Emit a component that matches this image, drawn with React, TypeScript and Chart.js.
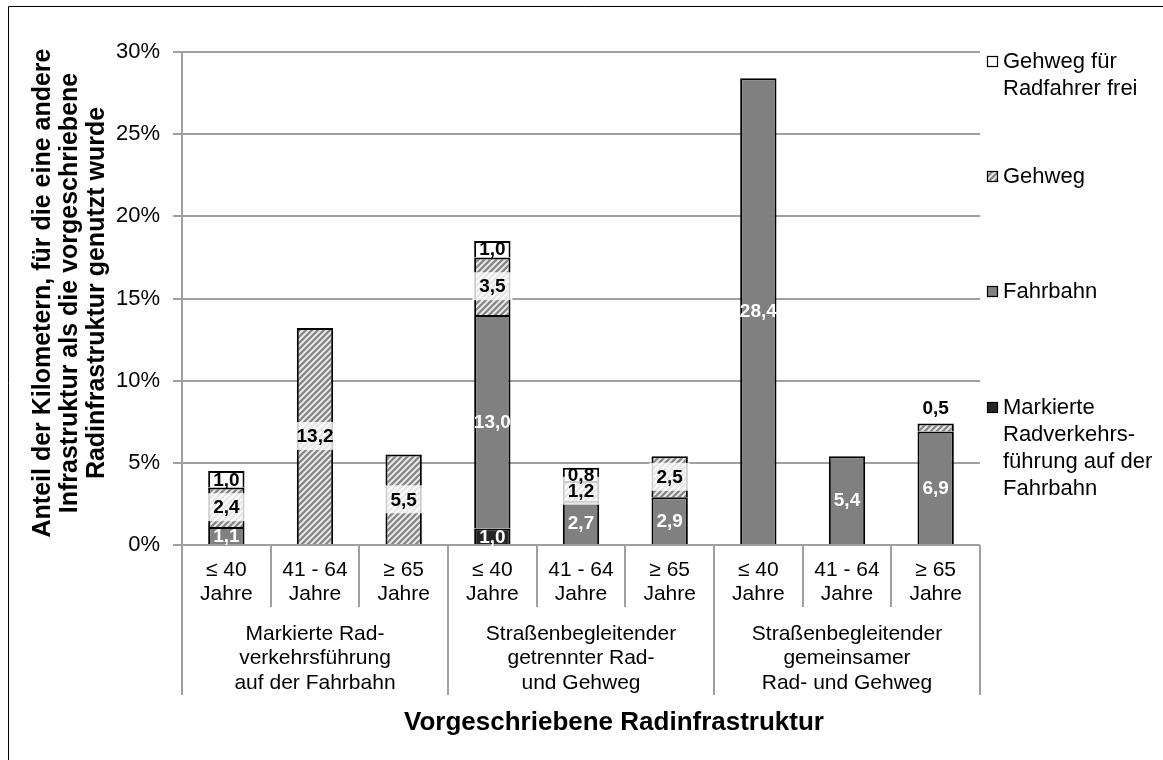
import React, { useEffect, useRef } from "react";
import { Chart, registerables } from "chart.js";
Chart.register(...registerables);

// ---------- DATA ----------
const ageLabels = ["≤ 40", "41 - 64", "≥ 65"];
const ageSuffix = "Jahre";
const groupLabels = [
  ["Markierte Rad-", "verkehrsführung", "auf der Fahrbahn"],
  ["Straßenbegleitender", "getrennter Rad-", "und Gehweg"],
  ["Straßenbegleitender", "gemeinsamer", "Rad- und Gehweg"],
];
const categories = groupLabels.flatMap((g) => ageLabels.map((a) => `${g.join(" ")} | ${a}`));

const markierte = [null, null, null, 1.0, null, null, null, null, null];
const fahrbahn = [1.1, null, null, 13.0, 2.7, 2.9, 28.4, 5.4, 6.9];
const gehweg = [2.4, 13.2, 5.5, 3.5, 1.2, 2.5, null, null, 0.5];
const gehwegFrei = [1.0, null, null, 1.0, 0.8, null, null, null, null];

const seriesNames = [
  ["Markierte", "Radverkehrs-", "führung auf der", "Fahrbahn"],
  ["Fahrbahn"],
  ["Gehweg"],
  ["Gehweg für", "Radfahrer frei"],
];
const yMax = 30;
const yStep = 5;
const yTitleLines = [
  "Anteil der Kilometern, für die eine andere",
  "Infrastruktur als die vorgeschriebene",
  "Radinfrastruktur genutzt wurde",
];
const xTitle = "Vorgeschriebene Radinfrastruktur";

// ---------- STYLE ----------
const FONT = '"Liberation Sans", Arial, sans-serif';
const GRID = "#a0a0a0";

function makeHatch(): CanvasPattern | string {
  const c = document.createElement("canvas");
  const s = 6;
  c.width = s;
  c.height = s;
  const g = c.getContext("2d");
  if (!g) return "#bbb";
  g.fillStyle = "#f0f0f0";
  g.fillRect(0, 0, s, s);
  g.strokeStyle = "#888888";
  g.lineWidth = 2.4;
  g.beginPath();
  for (let k = -1; k <= 1; k++) {
    g.moveTo(k * s - 1, s + 1);
    g.lineTo(k * s + s + 1, -1);
  }
  g.stroke();
  const p = g.createPattern(c, "repeat");
  return p || "#bbb";
}

const fmt = (v: number) => v.toFixed(1).replace(".", ",");

export default function App() {
  const ref = useRef<HTMLCanvasElement | null>(null);

  useEffect(() => {
    const canvas = ref.current;
    if (!canvas) return;
    const hatch = makeHatch();
    const fills = ["#262626", "#808080", hatch, "#ffffff"];
    const labelColors = ["#ffffff", "#ffffff", "#000000", "#000000"];
    const labelBg = [false, false, true, false];

    const borderPlugin = {
      id: "outerBorder",
      beforeDraw(chart: any) {
        const ctx = chart.ctx;
        ctx.save();
        ctx.fillStyle = "#ffffff";
        ctx.fillRect(0, 0, chart.width, chart.height);
        ctx.strokeStyle = "#000";
        ctx.lineWidth = 1;
        ctx.beginPath();
        ctx.moveTo(8.5, chart.height);
        ctx.lineTo(8.5, 6.5);
        ctx.lineTo(chart.width, 6.5);
        ctx.stroke();
        ctx.restore();
      },
    };

    const labelPlugin = {
      id: "segLabels",
      afterDatasetsDraw(chart: any) {
        const ctx = chart.ctx;
        ctx.save();
        ctx.font = `bold 19px ${FONT}`;
        ctx.textAlign = "center";
        ctx.textBaseline = "middle";
        chart.data.datasets.forEach((ds: any, i: number) => {
          const meta = chart.getDatasetMeta(i);
          meta.data.forEach((el: any, j: number) => {
            const v = ds.data[j];
            if (v == null) return;
            const { x, y, base } = el.getProps(["x", "y", "base"], true);
            const h = Math.abs(base - y);
            const txt = fmt(v);
            if (h < 12) {
              ctx.fillStyle = "#000";
              ctx.fillText(txt, x, Math.min(y, base) - 15);
              return;
            }
            const cy = (y + base) / 2;
            if (labelBg[i]) {
              const w = ctx.measureText(txt).width + 14;
              ctx.fillStyle = "rgba(255,255,255,0.8)";
              ctx.fillRect(x - w / 2, cy - 14, w, 28);
            }
            ctx.fillStyle = labelColors[i];
            ctx.fillText(txt, x, cy + 1);
          });
        });
        ctx.restore();
      },
    };

    const axisPlugin = {
      id: "customAxis",
      afterDraw(chart: any) {
        const ctx = chart.ctx;
        const a = chart.chartArea;
        const n = categories.length;
        const cw = (a.right - a.left) / n;
        ctx.save();
        // separators
        ctx.strokeStyle = GRID;
        ctx.lineWidth = 2;
        for (let k = 0; k <= n; k++) {
          const x = Math.round(a.left + k * cw);
          ctx.beginPath();
          ctx.moveTo(x, a.bottom);
          ctx.lineTo(x, k % 3 === 0 ? a.bottom + 150 : a.bottom + 62);
          ctx.stroke();
        }
        // category labels
        ctx.fillStyle = "#000";
        ctx.textAlign = "center";
        ctx.textBaseline = "middle";
        ctx.font = `21px ${FONT}`;
        for (let k = 0; k < n; k++) {
          const x = chart.scales.x.getPixelForValue(k);
          ctx.fillText(ageLabels[k % 3], x, a.bottom + 25);
          ctx.fillText(ageSuffix, x, a.bottom + 49);
        }
        groupLabels.forEach((lines, g) => {
          const x = a.left + (g * 3 + 1.5) * cw;
          lines.forEach((l, li) => ctx.fillText(l, x, a.bottom + 89 + li * 24.5));
        });
        // x title
        ctx.font = `bold 26px ${FONT}`;
        ctx.fillText(xTitle, 614, 723);
        // y title
        ctx.save();
        ctx.translate(0, 293);
        ctx.rotate(-Math.PI / 2);
        ctx.font = `bold 25px ${FONT}`;
        yTitleLines.forEach((l, li) => ctx.fillText(l, 0, 43 + li * 27));
        ctx.restore();
        // legend
        const legendY = [62, 177, 292, 408];
        ctx.font = `22px ${FONT}`;
        ctx.textAlign = "left";
        for (let s = 0; s < 4; s++) {
          const di = 3 - s;
          const yy = legendY[s];
          ctx.fillStyle = fills[di] as any;
          ctx.fillRect(987.5, yy - 5.5, 10, 10);
          ctx.strokeStyle = "#000";
          ctx.lineWidth = 1.2;
          ctx.strokeRect(987.5, yy - 5.5, 10, 10);
          ctx.fillStyle = "#000";
          seriesNames[di].forEach((l, li) => ctx.fillText(l, 1003, yy + li * 27));
        }
        ctx.restore();
      },
    };

    const mk = (i: number, data: (number | null)[]) => ({
      label: seriesNames[i].join(" "),
      data,
      backgroundColor: fills[i] as any,
      borderColor: "#000",
      borderWidth: 2,
      borderSkipped: "start" as const,
      barPercentage: 0.41,
      categoryPercentage: 1,
    });

    const chart = new Chart(canvas, {
      type: "bar",
      data: {
        labels: categories,
        datasets: [mk(0, markierte), mk(1, fahrbahn), mk(2, gehweg), mk(3, gehwegFrei)],
      },
      options: {
        animation: false,
        responsive: false,
        maintainAspectRatio: false,
        layout: { padding: { left: 0, right: 183, top: 52, bottom: 215 } },
        plugins: { legend: { display: false }, tooltip: { enabled: false } },
        scales: {
          x: { stacked: true, display: false },
          y: {
            stacked: true,
            min: 0,
            max: yMax,
            afterFit: (scale: any) => {
              scale.width = 182;
            },
            ticks: {
              stepSize: yStep,
              color: "#000",
              font: { family: FONT, size: 22 },
              padding: 13,
              callback: (v: any) => `${v}%`,
            },
            grid: { color: GRID, lineWidth: 2, tickLength: 9, drawTicks: true },
            border: { display: true, color: GRID, width: 2 },
          },
        },
      },
      plugins: [borderPlugin, labelPlugin, axisPlugin],
    });
    return () => chart.destroy();
  }, []);

  return (
    <div style={{ position: "fixed", left: 0, top: 0, width: 1163, height: 760, background: "#fff" }}>
      <canvas ref={ref} width={1163} height={760} style={{ display: "block" }} />
    </div>
  );
}
